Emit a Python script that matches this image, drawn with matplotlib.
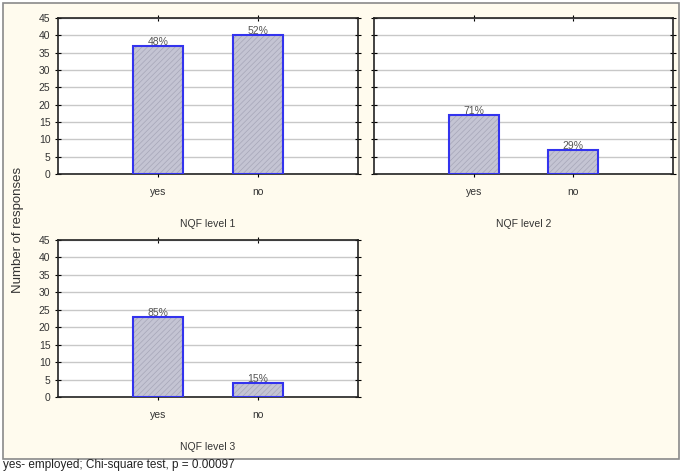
import matplotlib
matplotlib.use('Agg')
import matplotlib.pyplot as plt
from matplotlib.patches import Rectangle

plt.rcParams['font.family'] = ['Liberation Sans', 'DejaVu Sans']
plt.rcParams['hatch.linewidth'] = 0.5

categories = ['yes', 'no']
level1 = [37, 40]
level2 = [17, 7]
level3 = [23, 4]
pct1 = ['48%', '52%']
pct2 = ['71%', '29%']
pct3 = ['85%', '15%']
panel_titles = ['NQF level 1', 'NQF level 2', 'NQF level 3']
yticks = list(range(0, 50, 5))
footnote = 'yes- employed; Chi-square test, p = 0.00097'

W, H = 683, 472
TXT = '#333333'

fig = plt.figure(figsize=(W / 100, H / 100), dpi=100)
fig.patch.set_facecolor('white')

# cream panel with grey frame, behind the axes
frame = Rectangle((3 / W, 1 - 459 / H), 676 / W, 456 / H, transform=fig.transFigure,
                  facecolor='#fffbee', edgecolor='#8a8a8a', linewidth=1.2, zorder=-10)
fig.patches.append(frame)


def px_axes(left, top, right, bottom):
    return fig.add_axes([left / W, 1 - bottom / H, (right - left) / W, (bottom - top) / H])


def draw_panel(ax, values, pcts, title, show_ylabels):
    x = list(range(len(categories)))
    ax.set_facecolor('white')
    ax.bar(x, values, width=0.5, color='#c4c4d3', edgecolor='#a6a6b8',
           hatch='//////', linewidth=0, zorder=2)
    ax.bar(x, values, width=0.5, color='none', edgecolor='#3333ee',
           linewidth=1.5, zorder=3)
    for xi, v, p in zip(x, values, pcts):
        ax.text(xi, v - 0.3, p, ha='center', va='bottom', fontsize=7.5, color='#555555', zorder=4)
    ax.set_xlim(-1, 2)
    ax.set_ylim(0, 45)
    ax.set_yticks(yticks)
    ax.set_xticks(x)
    ax.set_xticklabels(categories)
    if not show_ylabels:
        ax.set_yticklabels([])
    ax.yaxis.grid(True, color='#c8c8c8', linewidth=1.0, zorder=1)
    ax.set_axisbelow(True)
    ax.tick_params(axis='both', direction='inout', length=5, width=0.8,
                   labelsize=7.5, labelcolor=TXT, top=True, right=True, pad=3)
    ax.tick_params(axis='x', pad=7)
    for s in ax.spines.values():
        s.set_linewidth(1.2)
        s.set_color('#222222')
    ax.set_xlabel(title, fontsize=7.5, color=TXT, labelpad=16)


ax1 = px_axes(58, 18, 358, 174)
ax2 = px_axes(374, 18, 673, 174)
ax3 = px_axes(58, 240, 358, 397)

draw_panel(ax1, level1, pct1, panel_titles[0], True)
draw_panel(ax2, level2, pct2, panel_titles[1], False)
draw_panel(ax3, level3, pct3, panel_titles[2], True)

fig.text(18 / W, 1 - 230 / H, 'Number of responses', rotation=90, ha='center', va='center',
         fontsize=9.5, color=TXT)

fig.text(3 / W, 1 / H, footnote, ha='left', va='bottom', fontsize=8.5, color='#222222')

fig.savefig('out.png', dpi=100, facecolor=fig.get_facecolor())
